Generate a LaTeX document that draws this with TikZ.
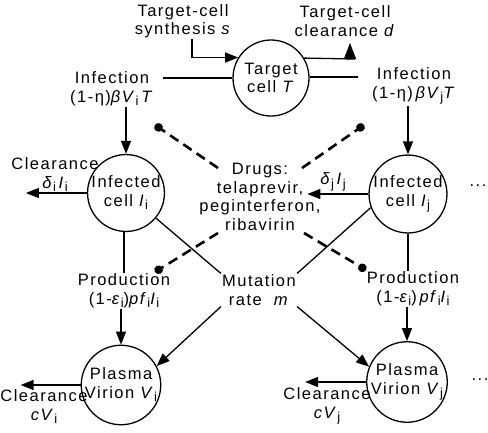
\documentclass[tikz,border=0pt]{standalone}
\usepackage{fontspec}
\setmainfont[LetterSpace=9]{Liberation Sans}
\usetikzlibrary{arrows.meta}
\newcommand{\sbs}[1]{\raisebox{-0.4ex}{\fontsize{13}{13}\selectfont #1}}
\tikzset{
  pool/.style={circle, draw, line width=1.3pt, minimum size=76pt, inner sep=0pt, align=center},
  lbl/.style={align=center, inner sep=1pt},
  flow/.style={line width=1.3pt, -{Triangle[length=13pt,width=10pt]}},
  link/.style={line width=1.3pt},
  inhib/.style={line width=2.6pt, dash pattern=on 10pt off 6pt, -{Circle[length=8.5pt]}}
}

\begin{document}
\begin{tikzpicture}[x=1pt, y=-1pt, font=\fontsize{16.5}{18.5}\selectfont]
  \useasboundingbox (0,0) rectangle (488,432);

  % Zielzellen
  \node[pool] (target) at (271,78) {Target\\cell \textit{T}};
  \node[lbl] (synth) at (183,21) {Target-cell\\synthesis \textit{s}};
  \node[lbl] (death) at (345,21) {Target-cell\\clearance \textit{d}};
  \coordinate (deathend) at (350,43);
  \draw[flow] ([xshift=9pt]synth.south) |- (target.148);
  \draw[link] (target.31) -- (355,59);
  \draw[line width=1.3pt, -{Triangle[length=16pt,width=12pt]}] (deathend |- target.31) -- (deathend);

  % Infektion
  \node[lbl] (infI) at (112,89) {Infection\\(1-η)\textit{βV}\sbs{i}\,\textit{T}};
  \node[lbl] (infJ) at (414,86) {Infection\\(1-η)\,\textit{βV}\sbs{j}\textit{T}};
  \coordinate (infIend) at (163,78);
  \coordinate (infJend) at (358,77);
  \draw[link] (target.west) -- (infIend);
  \draw[link] (target.east |- infJend) -- (infJend);

  % Infizierte Zellen
  \node[pool] (cellI) at (126,193) {Infected\\cell \textit{I}\sbs{i}};
  \node[pool] (cellJ) at (408,194) {Infected\\cell \textit{I}\sbs{j}};
  \draw[flow] (infI.south -| cellI.north) -- (cellI.north);
  \draw[flow] (infJ.south -| cellJ.north) -- (cellJ.north);

  \node[lbl] (clrI) at (55,175) {Clearance\\\textit{δ}\sbs{i}\,\textit{I}\sbs{i}};
  \node[lbl] (clrJ) at (333,182) {\textit{δ}\sbs{j}\,\textit{I}\sbs{j}};
  \draw[flow] (cellI.west) -- ++(-61,0);
  \draw[flow] (cellJ.west) -- ++(-61,0);
  \node (dotsJ) at (478,186) {...};

  % Produktion
  \node[lbl] (prodI) at (124,291) {Production\\(1-\textit{ε}\sbs{i})\textit{pf}\sbs{i}\textit{I}\sbs{i}};
  \node[lbl] (prodJ) at (413,289) {Production\\(1-\textit{ε}\sbs{i})\,\textit{pf}\sbs{i}\textit{I}\sbs{i}};
  \draw[link] (cellI.south -| prodI.north) -- (prodI.north);
  \draw[link] (cellJ.south) -- (cellJ.south |- prodJ.north);

  % Virionen
  \node[pool] (virI) at (121,385) {Plasma\\Virion \textit{V}\sbs{i}};
  \node[pool] (virJ) at (407,382) {Plasma\\Virion \textit{V}\sbs{j}};
  \draw[flow] (prodI.south -| virI.north) -- (virI.north);
  \draw[flow] (prodJ.south -| virJ.north) -- (virJ.north);

  \node[lbl] (clrVI) at (44,407) {Clearance\\\textit{cV}\sbs{i}};
  \node[lbl] (clrVJ) at (327,406) {Clearance\\\textit{cV}\sbs{j}};
  \draw[flow] (virI.west) -- ++(-60,0);
  \draw[flow] (virJ.west) -- ++(-61,0);
  \node (dotsV) at (480,380) {...};

  % Mutation
  \node[lbl] (mut) at (259,290) {Mutation\\rate~~\textit{m}};
  \draw[link] (cellI.-40) -- (mut.north west);
  \draw[link] (cellJ.200) -- (mut.north east);
  \draw[flow] (mut.south west) -- (virI.28);
  \draw[flow] (mut.south east) -- (virJ.158);

  % Medikamente
  \node[lbl] (drugs) at (260,197) {Drugs:\\telaprevir,\\peginterferon,\\ribavirin};
  \coordinate (hitInfI) at (155,125);
  \coordinate (hitInfJ) at (364,125);
  \coordinate (hitProdI) at (155,272);
  \coordinate (hitProdJ) at (366,270);
  \draw[inhib] (218,168) -- (hitInfI);
  \draw[inhib] (302,168) -- (hitInfJ);
  \draw[inhib] (218,233) -- (hitProdI);
  \draw[inhib] (304,233) -- (hitProdJ);

\end{tikzpicture}
\end{document}
